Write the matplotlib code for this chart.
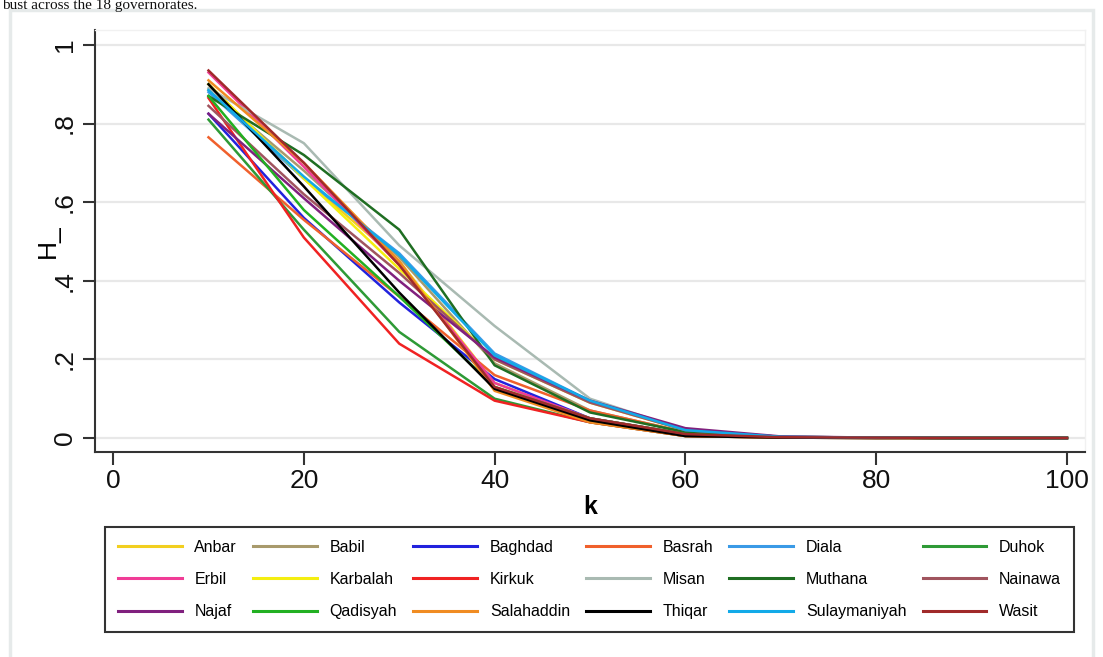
import matplotlib
matplotlib.use("Agg")
import matplotlib.pyplot as plt
from matplotlib.patches import Rectangle

# data: H_ by k for each governorate
k = [10, 20, 30, 40, 50, 60, 70, 80, 90, 100]

anbar        = [0.900, 0.660, 0.450, 0.140, 0.050, 0.010, 0.002, 0.001, 0.0, 0.0]
babil        = [0.885, 0.680, 0.460, 0.190, 0.070, 0.015, 0.002, 0.001, 0.0, 0.0]
baghdad      = [0.825, 0.560, 0.345, 0.150, 0.050, 0.010, 0.002, 0.001, 0.0, 0.0]
basrah       = [0.765, 0.555, 0.360, 0.160, 0.070, 0.015, 0.002, 0.001, 0.0, 0.0]
diala        = [0.880, 0.660, 0.470, 0.215, 0.095, 0.020, 0.003, 0.001, 0.0, 0.0]
duhok        = [0.810, 0.530, 0.270, 0.100, 0.040, 0.005, 0.001, 0.0, 0.0, 0.0]
erbil        = [0.930, 0.690, 0.440, 0.140, 0.050, 0.010, 0.002, 0.001, 0.0, 0.0]
karbalah     = [0.900, 0.660, 0.430, 0.200, 0.090, 0.020, 0.003, 0.001, 0.0, 0.0]
kirkuk       = [0.865, 0.510, 0.240, 0.095, 0.040, 0.005, 0.001, 0.0, 0.0, 0.0]
misan        = [0.890, 0.750, 0.490, 0.285, 0.100, 0.020, 0.003, 0.001, 0.0, 0.0]
muthana      = [0.870, 0.720, 0.530, 0.185, 0.065, 0.015, 0.002, 0.001, 0.0, 0.0]
nainawa      = [0.845, 0.620, 0.420, 0.200, 0.090, 0.020, 0.003, 0.001, 0.0, 0.0]
najaf        = [0.825, 0.610, 0.400, 0.205, 0.095, 0.025, 0.004, 0.001, 0.0, 0.0]
qadisyah     = [0.870, 0.580, 0.360, 0.130, 0.050, 0.010, 0.002, 0.001, 0.0, 0.0]
salahaddin   = [0.910, 0.700, 0.450, 0.120, 0.040, 0.005, 0.001, 0.0, 0.0, 0.0]
thiqar       = [0.900, 0.640, 0.370, 0.125, 0.045, 0.005, 0.001, 0.0, 0.0, 0.0]
sulaymaniyah = [0.885, 0.665, 0.465, 0.210, 0.095, 0.020, 0.003, 0.001, 0.0, 0.0]
wasit        = [0.935, 0.700, 0.440, 0.130, 0.050, 0.010, 0.002, 0.001, 0.0, 0.0]

names = ["Anbar", "Babil", "Baghdad", "Basrah", "Diala", "Duhok",
         "Erbil", "Karbalah", "Kirkuk", "Misan", "Muthana", "Nainawa",
         "Najaf", "Qadisyah", "Salahaddin", "Thiqar", "Sulaymaniyah", "Wasit"]
series = [anbar, babil, baghdad, basrah, diala, duhok,
          erbil, karbalah, kirkuk, misan, muthana, nainawa,
          najaf, qadisyah, salahaddin, thiqar, sulaymaniyah, wasit]
colors = ["#f2cf1f", "#a89a6c", "#2222dd", "#f0602c", "#3a9ae6", "#2e9a36",
          "#f03c96", "#f4ee10", "#f02222", "#a9bab2", "#1f6e22", "#a0545e",
          "#80207e", "#22b022", "#f08c22", "#000000", "#12aae8", "#a02a2a"]

y_ticks = [0, 0.2, 0.4, 0.6, 0.8, 1.0]
y_ticklabels = ["0", ".2", ".4", ".6", ".8", "1"]
x_ticks = [0, 20, 40, 60, 80, 100]

W, H = 1103, 657
fig = plt.figure(figsize=(W / 100, H / 100), dpi=100)

# light outer frame of the graph region
fig.patches.append(Rectangle((10 / W, -0.01), 1083 / W, 1 - 10 / H + 0.01,
                             transform=fig.transFigure, fill=False,
                             edgecolor="#e6eaea", linewidth=2.5))

# caption line from the surrounding document (cut at the top in the original)
fig.text(2 / W, 1 - 9 / H, "bust across the 18 governorates.", family="Liberation Serif",
         fontsize=11, va="baseline", ha="left", color="#111111")

ax = fig.add_axes([95 / W, 1 - 452 / H, 990 / W, 422 / H])

for name, vals, c in zip(names, series, colors):
    ax.plot(k, vals, color=c, linewidth=1.8, label=name)

ax.set_xlim(-1.9, 101.9)
ax.set_ylim(-0.0356, 1.038)
ax.set_yticks(y_ticks)
ax.set_yticklabels(y_ticklabels, rotation=90, va="center")
ax.set_xticks(x_ticks)
ax.grid(axis="y", color="#e8e8e8", linewidth=1.6)
ax.set_axisbelow(True)

for s in ["top", "right"]:
    ax.spines[s].set_color("#f1f1f1")
    ax.spines[s].set_linewidth(1.0)
for s in ["left", "bottom"]:
    ax.spines[s].set_color("#333333")
    ax.spines[s].set_linewidth(1.5)

ax.tick_params(axis="both", colors="#333333", labelcolor="#111111",
               labelsize=19, length=9, width=1.5)
ax.tick_params(axis="y", pad=4)
ax.tick_params(axis="x", pad=3)
for t in ax.get_xticklabels() + ax.get_yticklabels():
    t.set_family("Liberation Sans")

ax.set_ylabel("H_", family="Liberation Sans", fontsize=19)
ax.yaxis.set_label_coords(-0.035, 0.5)
ax.set_xlabel("k", family="Liberation Sans", fontsize=18, fontweight="bold", labelpad=2)

# legend: 3 rows x 6 columns, filled row-wise
handles, labels = ax.get_legend_handles_labels()
order = [r * 6 + c for c in range(6) for r in range(3)]
leg = fig.legend([handles[i] for i in order], [labels[i] for i in order],
                 ncol=6, loc="upper left", mode="expand",
                 bbox_to_anchor=(105 / W, 1 - 632 / H, 969 / W, 105 / H),
                 borderaxespad=0,
                 prop={"family": "Liberation Sans", "size": 11.5},
                 handlelength=4.0, handletextpad=0.8, columnspacing=1.0,
                 labelspacing=1.08, borderpad=0.8, fancybox=False,
                 edgecolor="#333333", framealpha=1)
leg.get_frame().set_linewidth(1.5)
for ln in leg.get_lines():
    ln.set_linewidth(2.2)

fig.savefig("out.png", dpi=100)
